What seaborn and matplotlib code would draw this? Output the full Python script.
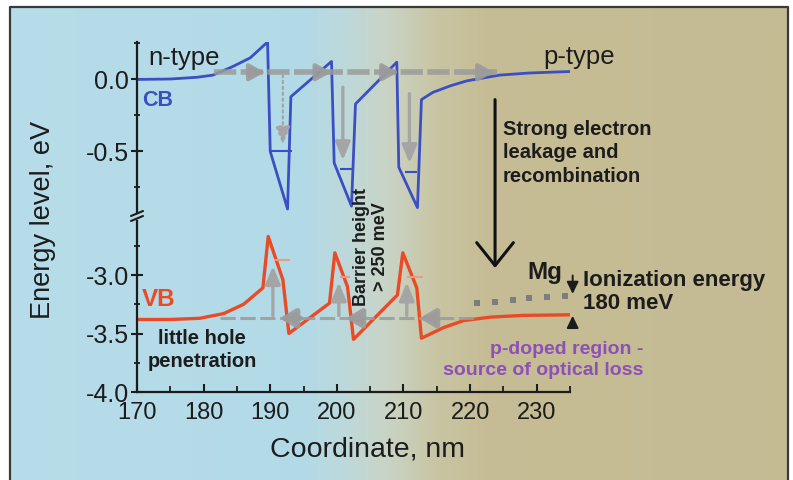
import numpy as np
import matplotlib
matplotlib.use("Agg")
import matplotlib.pyplot as plt
import seaborn as sns
from matplotlib.patches import ConnectionPatch
from matplotlib.ticker import FormatStrFormatter

# ---------------- data ----------------
cb_x = [170, 175, 179, 181.4, 184.4, 187.0, 189.6, 190.0, 192.6, 193.1, 199.2,
        199.6, 202.2, 202.8, 209.0, 209.3, 212.1, 212.7, 214.4, 217.0, 219.5,
        224.4, 229.0, 235.0]
cb_E = [0.0, 0.003, 0.015, 0.03, 0.09, 0.15, 0.26, -0.50, -0.90, -0.12, 0.125,
        -0.58, -0.88, -0.17, 0.12, -0.61, -0.89, -0.14, -0.09, -0.045, -0.01,
        0.03, 0.045, 0.055]

vb_x = [170, 175, 179.4, 183.0, 186.0, 188.9, 189.7, 191.9, 192.8, 198.9, 199.7,
        201.6, 202.5, 209.1, 209.9, 212.0, 212.7, 216.0, 219.0, 223.0, 228.0, 235.0]
vb_E = [-3.38, -3.38, -3.37, -3.33, -3.25, -3.11, -2.67, -3.04, -3.50, -3.24, -2.81,
        -3.10, -3.55, -3.17, -2.81, -3.11, -3.54, -3.45, -3.39, -3.36, -3.345, -3.34]

# confined levels in the wells
cb_lvl_x0 = [190.0, 200.4, 210.2]
cb_lvl_x1 = [193.3, 202.2, 212.1]
cb_lvl_E = [-0.50, -0.625, -0.64]
vb_lvl_x0 = [190.6, 200.4, 210.5]
vb_lvl_x1 = [192.9, 201.9, 212.9]
vb_lvl_E = [-2.87, -3.02, -3.02]

# Mg acceptor level (dotted)
mg_x = [221.0, 223.8, 226.4, 228.9, 231.6, 234.2]
mg_E = [-3.24, -3.23, -3.215, -3.20, -3.19, -3.18]

# carrier-flow arrows
e_flow_E = 0.05
e_flow_x = [181.5, 224.0]
e_head_x = [189.6, 199.6, 209.6, 224.0]
e_drop_x = [191.9, 200.9, 210.9]
e_drop_top = [0.05, -0.035, -0.08]
e_drop_bot = [-0.47, -0.58, -0.60]
h_flow_E = -3.37
h_flow_x = [182.5, 221.0]
h_seg_x0 = [194.9, 203.9, 215.0]
h_seg_x1 = [191.0, 200.9, 212.0]
h_rise_x = [190.4, 200.3, 210.5]
h_rise_top = [-2.90, -3.04, -3.04]

x_major = [170, 180, 190, 200, 210, 220, 230]
x_minor = [175, 185, 195, 205, 215, 225, 235]
up_major = [0.0, -0.5]
up_minor = [0.25, -0.25, -0.75]
lo_major = [-3.0, -3.5, -4.0]
lo_minor = [-2.75, -3.25, -3.75]

# ---------------- style ----------------
sns.set_style("ticks")
plt.rcParams['font.family'] = ['Liberation Sans', 'DejaVu Sans']
plt.rcParams['axes.unicode_minus'] = False

CB_C = '#3b4fc2'
VB_C = '#ea4a25'
GRAY = '#9b9b9b'
DARK = '#1c1c1c'
PURPLE = '#8c50b6'

W, H = 793, 480
fig = plt.figure(figsize=(7.93, 4.8), dpi=100)
fig.patch.set_facecolor('white')

# background gradient and frame
bg = fig.add_axes([0, 0, 1, 1])
bg.set_xlim(0, W)
bg.set_ylim(H, 0)
bg.axis('off')
stops_x = [0, 300, 340, 385, 435, 485, W]
stops_c = [(0.72, 0.865, 0.915), (0.70, 0.855, 0.905), (0.74, 0.85, 0.86),
           (0.79, 0.83, 0.77), (0.785, 0.77, 0.64), (0.775, 0.74, 0.585),
           (0.77, 0.735, 0.58)]
xs = np.arange(W)
row = np.stack([np.interp(xs, stops_x, [c[i] for c in stops_c]) for i in range(3)], axis=-1)
img = np.tile(row[None, :, :], (H, 1, 1))
bg.imshow(img, extent=[10, 788, H, 7], aspect='auto', zorder=0)
bg.plot([10, 10, 788, 788], [H + 5, 7, 7, H + 5], color='#3a3a3a', lw=1.6, zorder=1,
        clip_on=False)
# axis break mark
bg.plot([131, 143], [216, 211], color=DARK, lw=1.5)
bg.plot([131, 143], [221, 216], color=DARK, lw=1.5)

def fx(px):
    return px / W

def fy(py):
    return 1 - py / H

left = fx(137)
width = fx(570) - fx(137)
ax1 = fig.add_axes([left, fy(213), width, (213 - 42) / H])
ax2 = fig.add_axes([left, fy(392), width, (392 - 221) / H])
for a in (ax1, ax2):
    a.set_facecolor('none')
    a.set_xlim(170, 235)
    a.spines['top'].set_visible(False)
    a.spines['right'].set_visible(False)
    a.spines['left'].set_linewidth(1.6)
    a.spines['left'].set_color(DARK)
    a.spines['bottom'].set_linewidth(1.6)
    a.spines['bottom'].set_color(DARK)
ax1.spines['bottom'].set_visible(False)
ax1.set_ylim(-0.9275, 0.26)
ax2.set_ylim(-4.0, -2.538)

# ---- bands ----
sns.lineplot(x=cb_x, y=cb_E, ax=ax1, sort=False, estimator=None, color=CB_C, lw=2.0)
sns.lineplot(x=vb_x, y=vb_E, ax=ax2, sort=False, estimator=None, color=VB_C, lw=2.4)
ax1.hlines(cb_lvl_E, cb_lvl_x0, cb_lvl_x1, color=CB_C, lw=1.5)
ax2.hlines(vb_lvl_E, vb_lvl_x0, vb_lvl_x1, color='#ec9a84', lw=1.5)
sns.scatterplot(x=mg_x, y=mg_E, ax=ax2, marker='s', s=14, color='#7d7d7d', linewidth=0)

# ---- electron flow (gray) ----
ax1.plot(e_flow_x, [e_flow_E, e_flow_E], color=GRAY, lw=4, alpha=0.85,
         dashes=(4, 0.8), solid_capstyle='butt')
for xe in e_head_x:
    ax1.annotate('', xy=(xe, e_flow_E), xytext=(xe - 1.6, e_flow_E),
                 arrowprops=dict(arrowstyle='-|>,head_length=0.5,head_width=0.28',
                                 color=GRAY, lw=3, mutation_scale=18, alpha=0.9))
for i, (xd, t, b) in enumerate(zip(e_drop_x, e_drop_top, e_drop_bot)):
    ax1.annotate('', xy=(xd, b), xytext=(xd, t),
                 arrowprops=dict(arrowstyle='-|>,head_length=0.6,head_width=0.25',
                                 color='#a5a5a5', lw=1.6 if i == 0 else 2.4,
                                 ls=':' if i == 0 else '-', mutation_scale=18))

# ---- hole flow (gray) ----
ax2.plot(h_flow_x, [h_flow_E, h_flow_E], color=GRAY, lw=2.2, alpha=0.85, dashes=(5, 1.5))
for x0, x1 in zip(h_seg_x0, h_seg_x1):
    ax2.annotate('', xy=(x1, h_flow_E), xytext=(x0, h_flow_E),
                 arrowprops=dict(arrowstyle='-|>,head_length=0.5,head_width=0.3',
                                 color=GRAY, lw=4, mutation_scale=18, alpha=0.9))
for xr, t in zip(h_rise_x, h_rise_top):
    ax2.annotate('', xy=(xr, t), xytext=(xr, h_flow_E),
                 arrowprops=dict(arrowstyle='-|>,head_length=0.6,head_width=0.25',
                                 color='#a5a5a5', lw=2.4, mutation_scale=18))

# ionization energy arrows
ax2.annotate('', xy=(235.4, -3.185), xytext=(235.4, -2.98), annotation_clip=False,
             arrowprops=dict(arrowstyle='-|>,head_length=0.45,head_width=0.22',
                             color=DARK, lw=1.4, mutation_scale=16, clip_on=False))
ax2.annotate('', xy=(235.4, -3.325), xytext=(235.4, -3.47), annotation_clip=False,
             arrowprops=dict(arrowstyle='-|>,head_length=0.45,head_width=0.22',
                             color=DARK, lw=1.4, mutation_scale=16, clip_on=False))

# big leakage arrow across both panels
con = ConnectionPatch(xyA=(223.75, -0.14), coordsA=ax1.transData,
                      xyB=(223.75, -2.94), coordsB=ax2.transData,
                      arrowstyle='->,head_length=0.75,head_width=0.6',
                      mutation_scale=22, color='#111111', lw=2.2)
fig.add_artist(con)

# ---- ticks ----
fmt = FormatStrFormatter('%.1f')
ax1.set_xticks([])
ax1.set_yticks(up_major)
ax1.set_yticks(up_minor, minor=True)
ax2.set_yticks(lo_major)
ax2.set_yticks(lo_minor, minor=True)
ax2.set_xticks(x_major)
ax2.set_xticks(x_minor, minor=True)
for a in (ax1, ax2):
    a.yaxis.set_major_formatter(fmt)
    a.tick_params(axis='y', which='major', direction='inout', length=8, width=1.5,
                  labelsize=18, pad=2, colors=DARK)
    a.tick_params(axis='y', which='minor', direction='inout', length=5, width=1.3,
                  colors=DARK)
ax2.tick_params(axis='x', which='major', direction='in', length=6, width=1.5,
                labelsize=17, pad=7, colors=DARK)
ax2.tick_params(axis='x', which='minor', direction='in', length=4, width=1.3, colors=DARK)
ax1.set_ylabel('')
ax2.set_ylabel('')
ax2.set_xlabel('')

# ---- texts ----
fig.text(fx(367), fy(450), 'Coordinate, nm', fontsize=20.5, color=DARK,
         ha='center', va='center')
fig.text(fx(43), fy(220), 'Energy level, eV', fontsize=19.5, color=DARK,
         ha='center', va='center', rotation=90)
fig.text(fx(148), fy(58), 'n-type', fontsize=18.5, color=DARK, ha='left', va='center')
fig.text(fx(543), fy(57), 'p-type', fontsize=18.5, color=DARK, ha='left', va='center')
fig.text(fx(142), fy(101), 'CB', fontsize=15.5, color=CB_C, fontweight='bold',
         ha='left', va='center')
fig.text(fx(142), fy(300), 'VB', fontsize=17.5, color=VB_C, fontweight='bold',
         ha='left', va='center')
fig.text(fx(503), fy(153), 'Strong electron\nleakage and\nrecombination', fontsize=14.5,
         color=DARK, fontweight='bold', ha='left', va='center', linespacing=1.3)
fig.text(fx(202), fy(350), 'little hole\npenetration', fontsize=14.5, color=DARK,
         fontweight='bold', ha='center', va='center', linespacing=1.3)
fig.text(fx(371), fy(247), 'Barrier height\n> 250 meV', fontsize=13, color=DARK,
         fontweight='bold', ha='center', va='center', rotation=90, linespacing=1.1)
fig.text(fx(545), fy(273), 'Mg', fontsize=17.5, color=DARK, fontweight='bold',
         ha='center', va='center')
fig.text(fx(583), fy(292), 'Ionization energy\n180 meV', fontsize=16, color=DARK,
         fontweight='bold', ha='left', va='center', linespacing=1.1)
fig.text(fx(643), fy(360), 'p-doped region -\nsource of optical loss', fontsize=14,
         color=PURPLE, fontweight='bold', ha='right', va='center', linespacing=1.35)

fig.savefig('out.png', dpi=100)
